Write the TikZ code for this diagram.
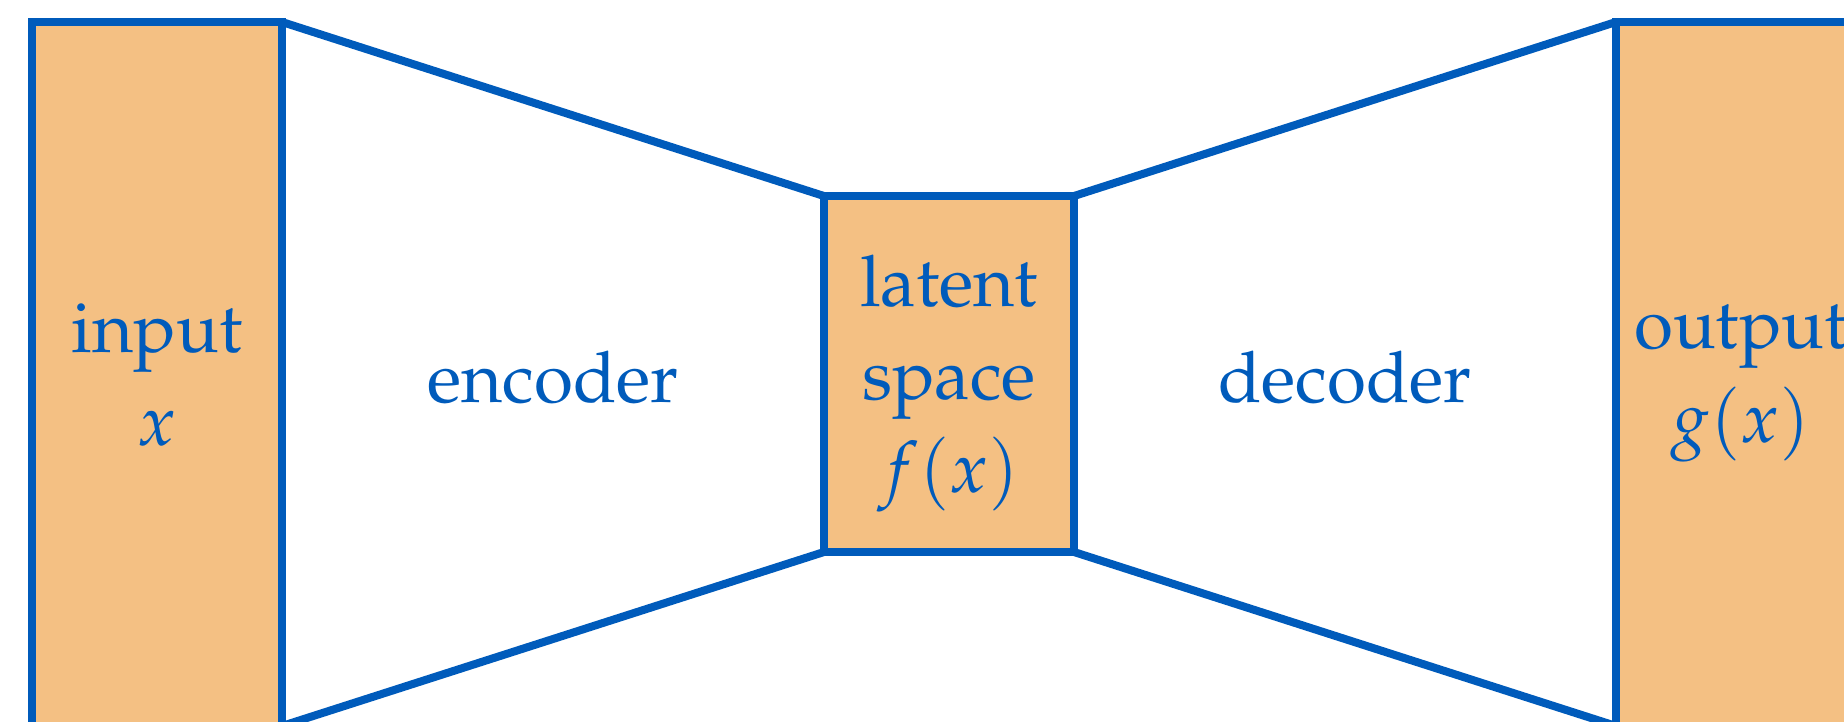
\documentclass[tikz,border=0pt]{standalone}
\usepackage[T1]{fontenc}
\usepackage{mathpazo}
\usetikzlibrary{positioning}
\definecolor{lineblue}{RGB}{0,91,187}
\definecolor{boxorange}{RGB}{244,192,131}

\begin{document}
\begin{tikzpicture}[x=1cm, y=-1cm,
    every node/.style={font=\fontsize{20.2}{26.5}\selectfont, text=lineblue},
    layer/.style={draw=lineblue, line width=0.08cm, fill=boxorange, rectangle, inner sep=0pt, outer sep=0pt, minimum width=2.5cm, text depth=0pt, align=center},
    link/.style={draw=lineblue, line width=0.08cm}]
	\useasboundingbox (0,0) rectangle (18.44,7.21);
	\clip (0,0) rectangle (18.44,7.21);
	\node[layer, minimum height=7.04cm] (input) at (1.57,3.74) {input\\$x$};
	\node[layer, minimum height=3.56cm] (latent) at (9.49,3.74) {latent\\space\\$f(x)$};
	\node[layer, minimum height=7.04cm] (output) at (17.41,3.74) {output\\$g(x)$};
	\draw[link] (input.north east) -- (latent.north west);
	\draw[link] (input.south east) -- (latent.south west);
	\draw[link] (latent.north east) -- (output.north west);
	\draw[link] (latent.south east) -- (output.south west);
	\node[anchor=base] (enc) at (5.53,4.02) {encoder};
	\node[anchor=base] (dec) at (13.45,4.02) {decoder};
\end{tikzpicture}
\end{document}
